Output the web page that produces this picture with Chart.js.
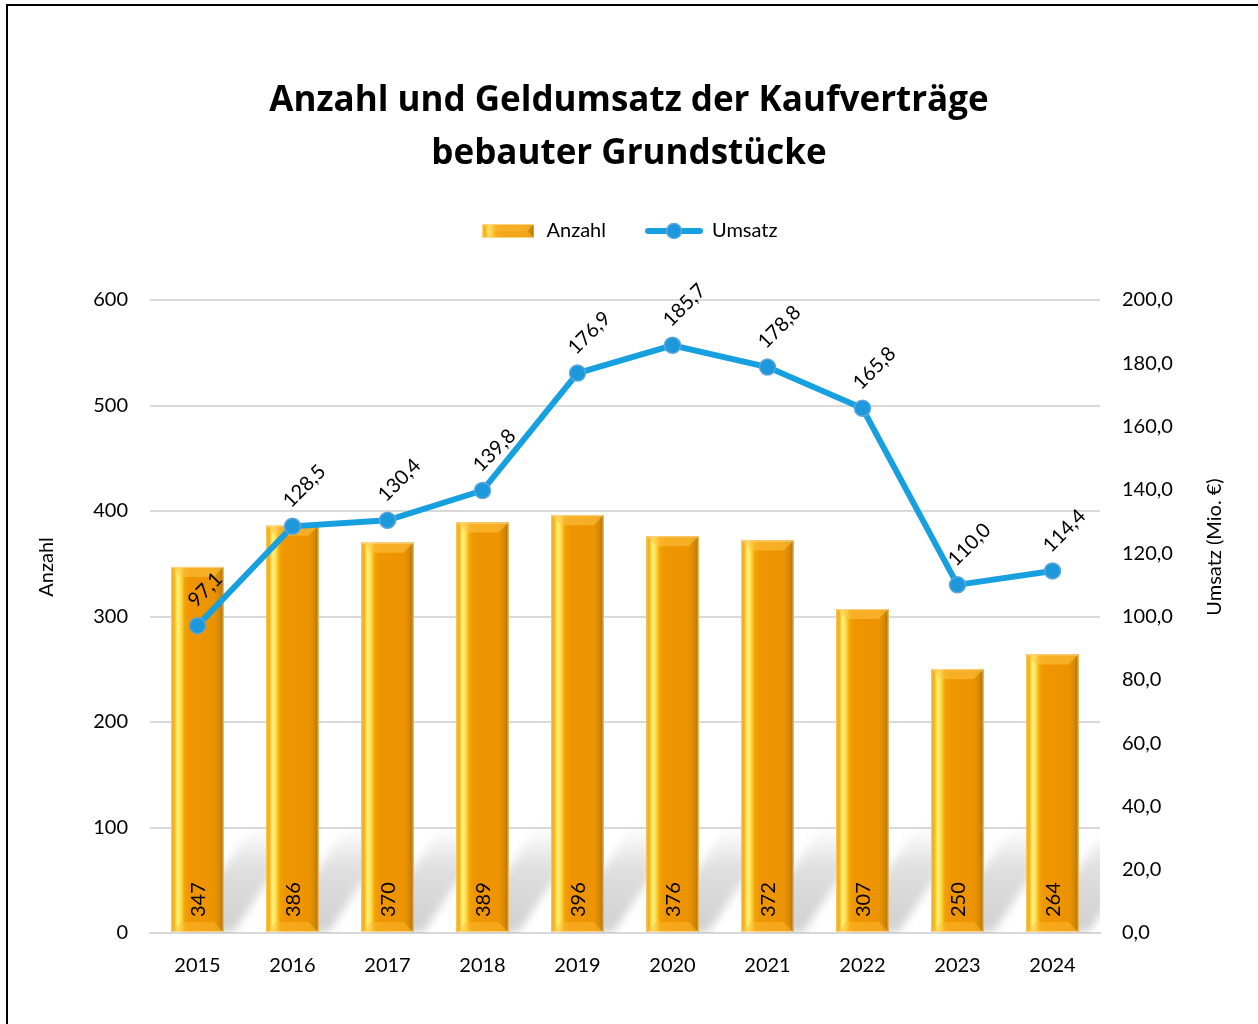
<!DOCTYPE html>
<html lang="de">
<head>
<meta charset="utf-8">
<title>Anzahl und Geldumsatz der Kaufverträge</title>
<script src="https://cdn.jsdelivr.net/npm/chart.js@4/dist/chart.umd.min.js"></script>
<style>
  html, body { margin: 0; padding: 0; background: #fff; }
</style>
</head>
<body>
<canvas id="chart" width="1258" height="1024"></canvas>
<script>
// Daten
const JAHRE = ['2015', '2016', '2017', '2018', '2019', '2020', '2021', '2022', '2023', '2024'];
const ANZAHL = [347, 386, 370, 389, 396, 376, 372, 307, 250, 264];
const UMSATZ = [97.1, 128.5, 130.4, 139.8, 176.9, 185.7, 178.8, 165.8, 110.0, 114.4];

const ORANGE = '#EE9500';
const BLAU = '#16A0E0';
const SCHRIFT = 'Lato, "Open Sans", "DejaVu Sans", sans-serif';

Chart.defaults.font.family = SCHRIFT;
Chart.defaults.color = '#000';

function komma(v) {
    return v.toFixed(1).replace('.', ',');
}

// Balken mit Facetten zeichnen
function balkenFlaeche(ctx, left, top, right, bottom) {
    let w = right - left;
    let g = ctx.createLinearGradient(left, 0, right, 0);
    g.addColorStop(0, '#E99A00');
    g.addColorStop(0.06, '#F6BA20');
    g.addColorStop(0.12, '#FFF27A');
    g.addColorStop(0.17, '#FFE35A');
    g.addColorStop(0.26, '#F2A200');
    g.addColorStop(0.35, '#EE9500');
    g.addColorStop(0.82, '#EC9300');
    g.addColorStop(0.92, '#D48806');
    g.addColorStop(1, '#A66F10');
    ctx.fillStyle = g;
    ctx.fillRect(left, top, w, bottom - top);

    let b = Math.min(10, (bottom - top) / 2);
    // obere Facette
    ctx.beginPath();
    ctx.moveTo(left, top);
    ctx.lineTo(right, top);
    ctx.lineTo(right - b, top + b);
    ctx.lineTo(left + b, top + b);
    ctx.closePath();
    ctx.fillStyle = 'rgba(255, 196, 70, 0.55)';
    ctx.fill();
    // untere Facette
    ctx.beginPath();
    ctx.moveTo(left, bottom);
    ctx.lineTo(right, bottom);
    ctx.lineTo(right - b, bottom - b);
    ctx.lineTo(left + b, bottom - b);
    ctx.closePath();
    ctx.fillStyle = 'rgba(255, 190, 60, 0.45)';
    ctx.fill();

    ctx.strokeStyle = 'rgba(255, 215, 140, 0.9)';
    ctx.lineWidth = 1;
    ctx.strokeRect(left + 0.5, top + 0.5, w - 1, bottom - top - 1);
}

// Legendensymbole
let symBalken = document.createElement('canvas');
symBalken.width = 52;
symBalken.height = 14;
balkenFlaeche(symBalken.getContext('2d'), 0, 0, 52, 14);

let symLinie = document.createElement('canvas');
symLinie.width = 58;
symLinie.height = 18;
{
    let c = symLinie.getContext('2d');
    c.strokeStyle = BLAU;
    c.lineWidth = 6;
    c.lineCap = 'round';
    c.beginPath();
    c.moveTo(3, 9);
    c.lineTo(55, 9);
    c.stroke();
    c.beginPath();
    c.arc(29, 9, 7.5, 0, Math.PI * 2);
    c.fillStyle = '#1E98DC';
    c.fill();
    c.strokeStyle = '#5DA6DC';
    c.lineWidth = 1.5;
    c.stroke();
}
const LEGENDE_SYMBOLE = [symBalken, symLinie];

const zusatz = {
    id: 'zusatz',
    beforeInit(chart) {
        // mehr Platz unter der Legende
        const fit = chart.legend.fit;
        chart.legend.fit = function () {
            fit.bind(chart.legend)();
            this.height += 49;
        };
    },
    beforeDraw(chart) {
        let ctx = chart.ctx;
        ctx.save();
        ctx.fillStyle = '#fff';
        ctx.fillRect(0, 0, chart.width, chart.height);
        ctx.strokeStyle = '#000';
        ctx.lineWidth = 2;
        ctx.strokeRect(7, 5, chart.width + 20, chart.height + 20);
        ctx.restore();
    },
    beforeDatasetsDraw(chart) {
        // Schatten hinter den Balken
        let ctx = chart.ctx;
        let a = chart.chartArea;
        let meta = chart.getDatasetMeta(0);
        ctx.save();
        ctx.beginPath();
        ctx.rect(a.left, a.top, a.right - a.left, a.bottom - a.top);
        ctx.clip();
        ctx.filter = 'blur(4px)';
        meta.data.forEach(el => {
            let l = el.x - el.width / 2;
            let r = el.x + el.width / 2;
            let y0 = el.base;
            let g = ctx.createLinearGradient(0, y0, 0, y0 - 105);
            g.addColorStop(0, 'rgba(150,150,150,0.45)');
            g.addColorStop(0.6, 'rgba(150,150,150,0.3)');
            g.addColorStop(1, 'rgba(150,150,150,0)');
            ctx.fillStyle = g;
            ctx.beginPath();
            ctx.moveTo(l + 10, y0);
            ctx.lineTo(r + 10, y0);
            ctx.lineTo(r + 80, y0 - 105);
            ctx.lineTo(l + 80, y0 - 105);
            ctx.closePath();
            ctx.fill();
        });
        ctx.restore();
    },
    afterDatasetDraw(chart, args) {
        if (args.index !== 0) return;
        let ctx = chart.ctx;
        ctx.save();
        args.meta.data.forEach(el => {
            balkenFlaeche(ctx, el.x - el.width / 2, el.y, el.x + el.width / 2, el.base);
        });
        // Werte in den Balken
        ctx.fillStyle = '#000';
        ctx.font = '20px ' + SCHRIFT;
        ctx.textAlign = 'left';
        ctx.textBaseline = 'middle';
        args.meta.data.forEach((el, i) => {
            ctx.save();
            ctx.translate(el.x + 1, el.base - 15);
            ctx.rotate(-Math.PI / 2);
            ctx.fillText(String(ANZAHL[i]), 0, 0);
            ctx.restore();
        });
        ctx.restore();
    },
    afterDatasetsDraw(chart) {
        let ctx = chart.ctx;
        let meta = chart.getDatasetMeta(1);
        ctx.save();
        ctx.fillStyle = '#000';
        ctx.font = '20px ' + SCHRIFT;
        ctx.textAlign = 'left';
        ctx.textBaseline = 'bottom';
        meta.data.forEach((el, i) => {
            ctx.save();
            ctx.translate(el.x + 1, el.y - 15);
            ctx.rotate(-Math.PI / 4);
            ctx.fillText(komma(UMSATZ[i]), 0, 0);
            ctx.restore();
        });
        // Achsentitel
        ctx.textAlign = 'center';
        ctx.textBaseline = 'middle';
        ctx.save();
        ctx.translate(47, 567);
        ctx.rotate(-Math.PI / 2);
        ctx.fillText('Anzahl', 0, 0);
        ctx.restore();
        ctx.save();
        ctx.translate(1215, 547);
        ctx.rotate(-Math.PI / 2);
        ctx.fillText('Umsatz (Mio. €)', 0, 0);
        ctx.restore();
        ctx.restore();
    }
};

let ctx = document.getElementById('chart').getContext('2d');
let chart = new Chart(ctx, {
    data: {
        labels: JAHRE,
        datasets: [{
            type: 'bar',
            label: 'Anzahl',
            data: ANZAHL,
            yAxisID: 'y',
            backgroundColor: ORANGE,
            barPercentage: 0.55,
            categoryPercentage: 1,
            order: 1
        }, {
            type: 'line',
            label: 'Umsatz',
            data: UMSATZ,
            yAxisID: 'y1',
            borderColor: BLAU,
            borderWidth: 6,
            pointStyle: 'circle',
            pointRadius: 8,
            pointBackgroundColor: '#1E98DC',
            pointBorderColor: '#5DA6DC',
            pointBorderWidth: 1.5,
            tension: 0,
            order: 0
        }]
    },
    options: {
        responsive: false,
        animation: false,
        layout: { padding: 0 },
        plugins: {
            title: {
                display: true,
                text: ['Anzahl und Geldumsatz der Kaufverträge', 'bebauter Grundstücke'],
                font: { family: '"Open Sans", Lato, sans-serif', size: 35, weight: 'bold', lineHeight: 53 / 35 },
                color: '#000',
                padding: { top: 75, bottom: 0 }
            },
            legend: {
                display: true,
                labels: {
                    usePointStyle: true,
                    pointStyleWidth: 56,
                    padding: 40,
                    font: { size: 20 },
                    color: '#000',
                    sort: (a, b) => a.datasetIndex - b.datasetIndex,
                    generateLabels: chart => {
                        let items = Chart.defaults.plugins.legend.labels.generateLabels(chart);
                        items.forEach(it => { it.pointStyle = LEGENDE_SYMBOLE[it.datasetIndex]; });
                        return items;
                    }
                }
            },
            tooltip: { enabled: false }
        },
        scales: {
            x: {
                grid: { display: false },
                border: { display: true, color: '#D9D9D9', width: 2 },
                ticks: { font: { size: 20 }, color: '#000', padding: 13 },
                afterFit: s => { s.height = 91; }
            },
            y: {
                position: 'left',
                min: 0,
                max: 600,
                ticks: { stepSize: 100, font: { size: 20 }, color: '#000', padding: 22 },
                grid: { color: '#D9D9D9', lineWidth: 2, drawTicks: false },
                border: { display: false },
                afterFit: s => { s.width = 150; }
            },
            y1: {
                position: 'right',
                min: 0,
                max: 200,
                ticks: {
                    stepSize: 20,
                    font: { size: 20 },
                    color: '#000',
                    padding: 22,
                    callback: v => komma(v)
                },
                grid: { drawOnChartArea: false, drawTicks: false },
                border: { display: false },
                afterFit: s => { s.width = 158; }
            }
        }
    },
    plugins: [zusatz]
});
</script>
</body>
</html>
